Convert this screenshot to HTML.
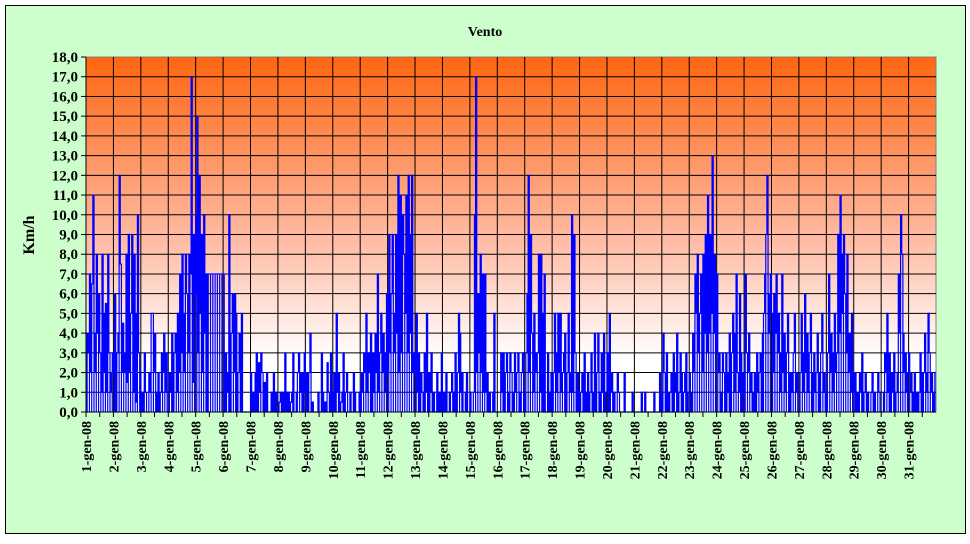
<!DOCTYPE html>
<html><head><meta charset="utf-8"><style>
body{margin:0;background:#fff;}
svg text{font-family:"Liberation Serif",serif;font-weight:bold;fill:#000;}
</style></head><body>
<svg id="chart" width="970" height="539" xmlns="http://www.w3.org/2000/svg">
<defs><linearGradient id="bg" x1="0" y1="0" x2="0" y2="1">
<stop offset="0" stop-color="#FF6611"/><stop offset="0.5" stop-color="#FFB8A0"/><stop offset="0.85" stop-color="#FFFFFF"/><stop offset="1" stop-color="#FFFFFF"/></linearGradient></defs>
<rect x="5.5" y="5.5" width="960" height="528" fill="#CCFFCC" stroke="#000"/>
<text x="485" y="36" font-size="14" text-anchor="middle">Vento</text>
<rect x="86" y="57" width="850" height="355" fill="url(#bg)" stroke="#808080"/>
<g id="grid"></g><g id="series"></g><g id="axes"></g>
<text transform="translate(34,235) rotate(-90)" font-size="16" text-anchor="middle">Km/h</text>
</svg>
<script>
const week1=[0,4,3,7,2,6.5,11,2,4,8,4,6,3,1,8,2,5,5.5,1,8,3,2,1,3,
2,6,0,3,4,12,7.5,2,4.5,3,2,8,1.5,9,2,5,9,1,8,5,0.5,10,3,2,
0,1,0,3,1,0,0,2,1,5,5,2,4,0,1,2,0,1,3,2,4,1,3,0,
0,2,1,4,0,3,4,1,5,2,7,3,8,5,2,8,6,3,8,7,17,1.5,9,6,
10,15,3,12,5,9,2,10,4,7,0,7,7,7,7,7,7,7,7,7,7,7,7,7,
7,0,3,1,2,10,0,4,6,2,6,5,0,2,4,0,5,0,0,0,0,0,0,0,
2,0,1,0,2,3,0,2.5,1,3,2,0,1.5,0,2,0,0,0,1,0,2,0,1,0];
const week2=[0,0.5,1,0,1,0,3,1,0,1,0,0.5,1,3,0,0,1,2,3,1,2,0,2,3,
1,2,0,2,4,0,0.5,0,0,0,0,1,0,0,3,1,0,0.5,0,2.5,1,0,3,0,
1,2,0,5,1,2,0,0.5,1,3,0,1,2,0,0,1,0,0,2,1,0,0,0,1,
0,2,1,3,2,5,1,3,2,4,0,3,1,4,2,7,1,3,5,2,4,1,3,6,
2,9,3,6,9,3,5,9,4,12,2,11,3,10,8,5,11,3,12,9,4,12,2,3,
2,5,1,3,0,2,1,0,3,1,5,0,2,1,3,0,1,0,0,2,0,1,0,3,
0,1,0,2,0,0,1,1,2,0,1,3,0,2,5,4,1,2,0,0,1,2,0,0];
const week3=[1,0,0,1,10,17,2,6,3,8,2,7,1,7,1,2,0,1,0,0,1,5,0,0,
0,0,0,3,1,3,0,2,3,0,1,3,2,1,0,3,1,2,3,0,1,2,3,1,
0,3,6,12,2,9,4,1,5,2,3,3,8,1,8,5,0,7,0,0,3,0,1,2,
0,2,5,1,3,5,2,5,1,2,3,4,0,2,5,1,2,10,1,9,3,0,2,1,
0,1,2,0,3,1,0,2,0,1,3,0,1,4,0,2,4,1,0,3,1,4,0,1,
3,0,5,1,2,0,1,0,0,2,1,0,0,0,0,2,0,0,0,0,0,0,1,0,
0,0,0,0,0,0,1,0,0,1,0,0,0,0,0,0,0,1,0,0,0,0,2,0];
const week4=[1,4,2,0,3,1,0,1,2,0,3,1,2,4,0,1,3,2,0,1,2,3,0,1,
2,0,1,4,2,7,5,8,3,5,7,2,8,4,9,3,11,4,9,5,13,4,8,3,
7,2,3,0,1,3,2,0,3,1,2,4,0,3,5,1,4,7,2,1,6,3,0,2,
1,7,3,2,4,1,2,0,1,2,0,3,1,2,3,0,4,5,7,9,12,6,4,7,
5,2,6,4,7,3,5,1,3,7,2,4,1,3,5,2,0,2,1,3,5,1,2,0,
0,2,5,1,3,6,2,4,1,3,5,2,0,3,1,2,4,2,0,3,5,1,2,0,
1,3,7,2,4,1,3,5,2,3,9,4,11,8,5,9,6,3,8,2,4,1,5,2];
const week5=[1,2,0,1,0,2,1,3,0,1,2,0,1,0,0,1,2,0,1,0,0,2,1,0,
0,0,1,3,2,5,1,3,0,2,1,3,0,1,2,7,4,10,8,4,2,3,1,2,
3,1,2,0,1,2,0,1,0,1,3,2,0,2,4,1,2,5,3,1,2,0,1,2];
const dayLabels=[];for(let d=1;d<=31;d++)dayLabels.push(d+"-gen-08");
const yTicks=[0,1,2,3,4,5,6,7,8,9,10,11,12,13,14,15,16,17,18];
const speeds=week1.concat(week2,week3,week4,week5);

const X0=86,X1=936,Y0=412,Y1=57,YMAX=18,NH=744;
const xs=h=>X0+(X1-X0)*h/NH;
const ys=v=>Y0-(Y0-Y1)*v/YMAX;
const NS="http://www.w3.org/2000/svg";
const mk=(t,a,p)=>{const e=document.createElementNS(NS,t);for(const k in a)e.setAttribute(k,a[k]);p.appendChild(e);return e;};
const grid=document.getElementById('grid'),axes=document.getElementById('axes'),ser=document.getElementById('series');
yTicks.forEach(v=>{
 if(v>0&&v<YMAX){const l=mk('line',{x1:X0,x2:X1,y1:ys(v),y2:ys(v),stroke:'#000','stroke-width':1},grid);
 
 }
 const t=mk('line',{x1:X0-5,x2:X0,y1:ys(v),y2:ys(v),stroke:'#000'},axes);
 
 
 const tx=mk('text',{x:78,y:ys(v)+5,'font-size':15,'text-anchor':'end'},axes);
 tx.textContent=v.toFixed(1).replace('.',',');
 
 
});
dayLabels.forEach((lab,i)=>{
 const x=xs(i*24);
 if(i>0){const g=mk('line',{x1:x,x2:x,y1:Y1,y2:Y0,stroke:'#000'},grid);
 
 }
 const t=mk('line',{x1:x,x2:x,y1:Y0,y2:Y0+5,stroke:'#000'},axes);
 
 
 const m=xs(i*24+12);
 const t2=mk('line',{x1:m,x2:m,y1:Y0,y2:Y0+5,stroke:'#000'},axes);
 
 
 const tx=mk('text',{transform:`translate(${x+5},421) rotate(-90)`,'font-size':14,'text-anchor':'end'},axes);
 tx.textContent=lab;
 
 
});
mk('line',{x1:X0,x2:X0,y1:Y1,y2:Y0,stroke:'#000'},axes);
mk('line',{x1:X0,x2:X1,y1:Y0,y2:Y0,stroke:'#000'},axes);
let d="M"+xs(0).toFixed(2)+","+Y0;
speeds.forEach((v,i)=>{
 d+=" V"+ys(v).toFixed(2)+" H"+xs(i+1).toFixed(2);
 if(i%2===0) d+=" V"+Y0;
});
const pl=mk('path',{d:d,fill:'none',stroke:'#0000FF','stroke-width':1.2},ser);


</script>
</body></html>
